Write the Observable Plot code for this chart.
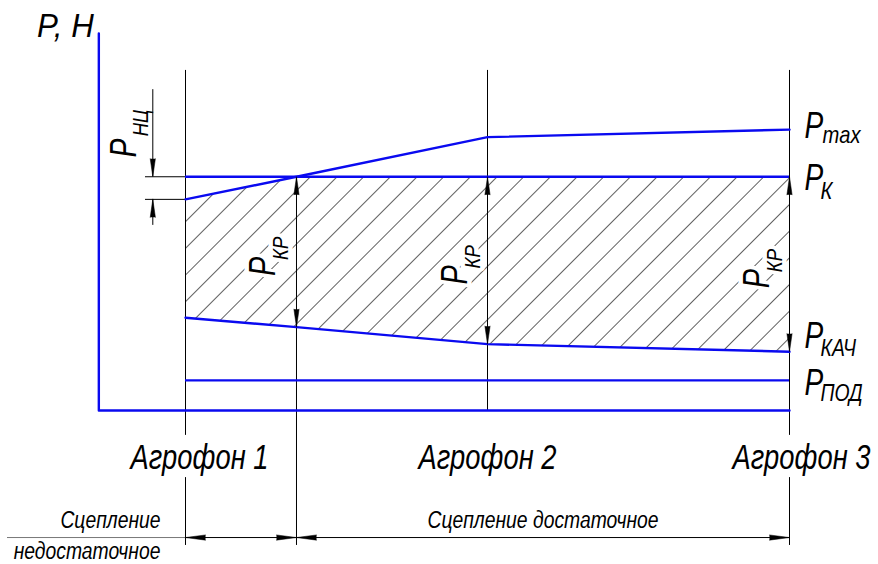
<!DOCTYPE html>
<html><head><meta charset="utf-8">
<script src="https://cdn.jsdelivr.net/npm/d3@7"></script>
<script src="https://cdn.jsdelivr.net/npm/@observablehq/plot@0.6"></script>
<style>body{margin:0;background:#fff}#chart{width:878px;height:564px}</style>
</head><body><div id="chart"></div>
<script>
// ---- data (chart units: x in agrofon index, y in force units) ----
const agrofonX = [1, 2, 3];
const agrofonNames = ["Агрофон 1", "Агрофон 2", "Агрофон 3"];
const boundaryX = 1.3675;                 // where P_max reaches P_K
const pmaxX = [1, 1.3675, 2, 3];
const pmaxP = [56.0, 62.0, 72.5, 74.5];
const kachX = [1, 1.3675, 2, 3];
const kachP = [24.6, 22.1, 17.6, 15.6];
const pK = 62.0;
const pPod = 8.0;
const gripTexts = ["Сцепление", "недостаточное", "Сцепление достаточное"];
const axisLabel = "P, H";

// ---- layout of the drawing frame (chart units) ----
const axisX = 0.713, axisTop = 100, guideTop = 90.2;
const ncX = 0.8917, ncExtX = 0.8675, ncTop = 85.1, ncBottom = 49.1;
const gapTop = -6.6, gapBottom = -17.8, guideBottom = -35.8, dimY = -33.7, dimStartX = 0.4106;
const agroLabelY = -15.4, gripRow1Y = -31.3, gripRow2Y = -39.5;

const BLUE = "#0a0af0";
const FONT = "'Liberation Sans',Arial,sans-serif";

function lbl(x, y, text, size, opts = {}) {
  return Plot.text([{x, y}], {x: "x", y: "y", text: () => text, fontSize: size, fontStyle: "italic",
    fontFamily: FONT, fill: "black", lineAnchor: "bottom", textAnchor: "start", ...opts});
}

const hatch = pmaxX.map((x, i) => ({x, lo: kachP[i], hi: Math.min(pmaxP[i], pK)}));
const pmax = pmaxX.map((x, i) => ({x, y: pmaxP[i]}));
const kach = kachX.map((x, i) => ({x, y: kachP[i]}));
const kachAt = x => kachP[kachX.indexOf(x)];

const guides = [
  {x: 1, y1: guideTop, y2: gapTop}, {x: 1, y1: gapBottom, y2: guideBottom},
  {x: boundaryX, y1: pK, y2: guideBottom},
  {x: 2, y1: guideTop, y2: 0},
  {x: 3, y1: guideTop, y2: gapTop}, {x: 3, y1: gapBottom, y2: guideBottom},
  {x: ncX, y1: ncTop, y2: pK}, {x: ncX, y1: pmaxP[0], y2: ncBottom}
];
const tips = [
  ...[boundaryX, 2, 3].flatMap(x => [{x, y: pK, a: 0}, {x, y: kachAt(x), a: 180}]),
  {x: ncX, y: pK, a: 180}, {x: ncX, y: pmaxP[0], a: 0}
];
const hTips = [
  {x: 1, y: dimY, a: 270}, {x: boundaryX, y: dimY, a: 90},
  {x: boundaryX, y: dimY, a: 270}, {x: 3, y: dimY, a: 90}
];

const marks = [
  Plot.areaY(hatch, {x: "x", y1: "lo", y2: "hi", fill: "url(#hatch)", curve: "linear"}),
  Plot.ruleX(guides, {x: "x", y1: "y1", y2: "y2", stroke: "black", strokeWidth: 1}),
  Plot.ruleY([pK, pmaxP[0]], {y: d => d, x1: ncExtX, x2: 1, stroke: "black", strokeWidth: 1}),
  Plot.ruleY([dimY], {y: d => d, x1: dimStartX, x2: 1, stroke: "#777", strokeWidth: 1}),
  Plot.ruleY([dimY], {y: d => d, x1: 1, x2: 3, stroke: "black", strokeWidth: 1}),
  Plot.line([{x: axisX, y: axisTop}, {x: axisX, y: 0}, {x: 3, y: 0}], {x: "x", y: "y", stroke: BLUE, strokeWidth: 2.4}),
  Plot.line(pmax, {x: "x", y: "y", stroke: BLUE, strokeWidth: 2.4}),
  Plot.line(kach, {x: "x", y: "y", stroke: BLUE, strokeWidth: 2.4}),
  Plot.ruleY([pK, pPod], {y: d => d, x1: 1, x2: 3, stroke: BLUE, strokeWidth: 2.4}),
  Plot.vector(tips, {x: "x", y: "y", rotate: "a", shape: "spike", length: 18, r: 2.6, anchor: "end", fill: "black", stroke: "black", strokeWidth: 0.5}),
  Plot.vector(hTips, {x: "x", y: "y", rotate: "a", shape: "spike", length: 20, r: 2.6, anchor: "end", fill: "black", stroke: "black", strokeWidth: 0.5}),
  // axis title
  lbl(axisX, axisTop, axisLabel, 34, {textAnchor: "end", dx: -5, dy: 4}),
  // right-hand labels
  lbl(3, pmaxP[3], "P", 36, {dx: 15, dy: 8}), lbl(3, pmaxP[3], "max", 24, {dx: 33, dy: 13}),
  lbl(3, pK, "P", 36, {dx: 15, dy: 13.5}), lbl(3, pK, "К", 24, {dx: 31, dy: 22}),
  lbl(3, kachP[3], "P", 36, {dx: 15, dy: -4}), lbl(3, kachP[3], "КАЧ", 23, {dx: 31, dy: 4}),
  lbl(3, pPod, "P", 36, {dx: 15, dy: 15}), lbl(3, pPod, "ПОД", 23, {dx: 31, dy: 21}),
  // rotated P_KP labels
  ...[boundaryX, 2, 3].flatMap(x => {
    const mid = (pK + kachAt(x)) / 2;
    return [
      lbl(x, mid, "P", 37, {rotate: -90, dx: -21, dy: 24, stroke: "white", strokeWidth: 9}),
      lbl(x, mid, "КР", 22, {rotate: -90, dx: -8, dy: 8, stroke: "white", strokeWidth: 9})
    ];
  }),
  // P_НЦ
  lbl(ncX, pK, "P", 36, {rotate: -90, dx: -17, dy: -19.5}),
  lbl(ncX, pK, "НЦ", 22, {rotate: -90, dx: -5, dy: -40.5}),
  // agrofon labels
  lbl(agrofonX[0], agroLabelY, agrofonNames[0], 35, {textAnchor: "middle", dx: 14}),
  lbl(agrofonX[1], agroLabelY, agrofonNames[1], 35, {textAnchor: "middle"}),
  lbl(agrofonX[2], agroLabelY, agrofonNames[2], 35, {textAnchor: "middle", dx: 12}),
  // grip texts
  lbl(1, gripRow1Y, gripTexts[0], 23, {textAnchor: "end", dx: -25}),
  lbl(1, gripRow2Y, gripTexts[1], 23, {textAnchor: "end", dx: -25}),
  lbl((boundaryX + 3) / 2, gripRow1Y, gripTexts[2], 23, {textAnchor: "middle"})
];

const chart = Plot.plot({
  width: 878, height: 564, margin: 0,
  x: {axis: null, domain: [0.3874, 3.2947]},
  y: {axis: null, domain: [-40.85, 108.75]},
  style: {background: "#fff", overflow: "visible"},
  marks
});

const svg = d3.select(chart);
const defs = svg.insert("defs", ":first-child");
const pat = defs.append("pattern").attr("id", "hatch").attr("patternUnits", "userSpaceOnUse")
  .attr("width", 18.86).attr("height", 18.86).attr("patternTransform", "rotate(45) translate(4.5,0)");
pat.append("line").attr("x1", 0).attr("y1", -1).attr("x2", 0).attr("y2", 19.86)
  .attr("stroke", "#000").attr("stroke-width", 1.25);

document.getElementById("chart").appendChild(chart);

// drafting-style condensed lettering
const squeeze = {"P, H": 0.92};
chart.querySelectorAll("text").forEach(t => {
  const fs = parseFloat(getComputedStyle(t).fontSize) || 20;
  const k = squeeze[t.textContent] ?? (fs <= 24 ? 0.84 : 0.78);
  const L = t.getComputedTextLength();
  t.setAttribute("textLength", (L * k).toFixed(1));
  t.setAttribute("lengthAdjust", "spacingAndGlyphs");
});
</script>
</body></html>
